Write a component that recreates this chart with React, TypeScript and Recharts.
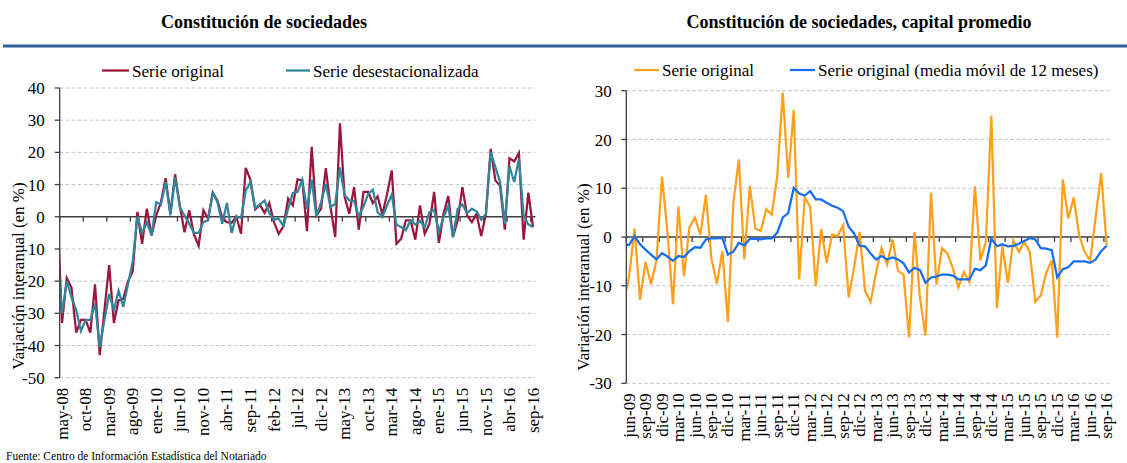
import React from "react";
import {
  LineChart,
  Line,
  XAxis,
  YAxis,
  CartesianGrid,
  ReferenceLine,
} from "recharts";

const FONT = "'Liberation Serif', 'Times New Roman', serif";
const AXIS = "#404040";

// Constitución de sociedades, may-08 .. sep-16 (monthly)
const leftTickLabels = [
  "may-08", "oct-08", "mar-09", "ago-09", "ene-10", "jun-10", "nov-10",
  "abr-11", "sep-11", "feb-12", "jul-12", "dic-12", "may-13", "oct-13",
  "mar-14", "ago-14", "ene-15", "jun-15", "nov-15", "abr-16", "sep-16",
];
const leftOriginal = [
  -33, -19, -22, -36, -32, -32, -36, -21, -43, -29,
  -15, -33, -26, -25.5, -20, -17, 1.5, -8.4, 2.5, -5.8,
  0.4, 4.5, 12, 1, 13.2, 3.5, -4.8, 2, -5.5, -9,
  2, -0.6, 7.5, 5, -0.3, -1.7, -1.9, 0.1, -5.3, 15.2,
  11.5, 2.3, 3.7, 1.2, 4.3, -1.7, -5.3, -3, 5.6, 3.5,
  11.6, 11.3, -4.5, 21.7, 0.4, 2.5, 15.1, 3, -6.3, 29,
  6.1, 0.9, 9.2, -4, 7.7, 7.7, 4.2, 6.3, 0.7, 7,
  14.4, -8.4, -6.8, -1.1, -1.1, -7.1, 3.5, -5.3, -2.2, 7.7,
  -8.1, 0.9, 6.4, -6.3, -1.1, 9.2, 0.4, -1.7, 0.9, -6,
  0.9, 21.1, 11.3, 9.6, -4, 18.2, 17.2, 19.8, -7.1, 7.5, -3.2,
];
const leftDesest = [
  -30, -20, -25, -29, -35.5, -32, -32, -27, -40.5, -32,
  -24, -29, -23, -28, -21, -14, 0, -5, -1.7, -5.8,
  4.5, 3.8, 10.8, 0.4, 12.3, 3, 0.4, -2.2, -5, -5,
  -1.7, -1.1, 7.5, 4.5, -2.2, 4.3, -5, 0.1, -0.4, 8.1,
  10.7, 2.7, 3.8, 5.1, 1.1, -0.9, -0.6, -2.9, 2.5, 7.4,
  7.7, 11.5, 2.5, 11.5, 0.1, 4.5, 10.2, 3, 4, 15.3,
  6.7, 5.1, 4.9, 0.1, 3.2, 7.1, 8.4, 1.4, -0.1, 3.5,
  6.9, -2.5, -3.2, -4.2, -1.1, -2.4, -1.3, -3.2, 1.4, 2.2,
  -4.8, -0.1, 3.3, -6.3, 2.5, 3.8, 1.1, 2.5, 1.7, -0.9,
  0.9, 20.1, 15.4, 10.8, -2.2, 15.6, 10.8, 18, 0.4, -2.4, -3.2,
];
// abr-08: only the clipped piece of line at the left edge shows
const leftOriginalPrev = 1.8;
const leftDesestPrev = -11.6;

// Constitución de sociedades, capital promedio, jun-09 .. sep-16
const rightTickLabels = [
  "jun-09", "sep-09", "dic-09", "mar-10", "jun-10", "sep-10", "dic-10",
  "mar-11", "jun-11", "sep-11", "dic-11", "mar-12", "jun-12", "sep-12",
  "dic-12", "mar-13", "jun-13", "sep-13", "dic-13", "mar-14", "jun-14",
  "sep-14", "dic-14", "mar-15", "jun-15", "sep-15", "dic-15", "mar-16",
  "jun-16", "sep-16",
];
const rightOriginal = [
  -8.2, 1.7, -12.9, -5.1, -9.7, -4.8, 12.4, 1, -13.8, 6.3,
  -8, 2, 4, 0.5, 8.7, -4.4, -9.6, -2.9, -17.4, 7,
  15.9, -4.6, 10.5, 1.7, 1.3, 5.7, 4.6, 12.6, 29.6, 12.1,
  26, -8.7, 8.1, 6.2, -10.1, 1.6, -5.3, 0.5, 0.2, 2.4,
  -12.4, -6.2, 1, -11.1, -13.3, -7.2, -2.3, -5.7, -0.5, -7,
  -7.7, -20.6, 1, -12.6, -20.2, 9.1, -9.8, -2.3, -3.4, -6.5,
  -10.3, -7.2, -9.2, 10.4, -4.8, -1, 24.9, -14.6, -1.8, -9.4,
  -0.7, -3.1, -1, -3.1, -13.3, -12, -7.3, -4.8, -20.6, 11.8,
  3.8, 8.1, 0.3, -3.1, -4.8, 4.1, 13.1, -1.7,
];
const rightMovil = [
  -1.6, 0.2, -1.5, -2.6, -3.6, -4.6, -3.3, -4, -4.9, -3.9,
  -4.1, -2.9, -2.1, -2.2, -0.5, -0.3, -0.3, -0.2, -3.6, -3,
  -1.2, -1.7, -0.4, -0.4, -0.5, -0.3, -0.3, 0.9, 4, 4.9,
  10.1, 8.9, 8.5, 9.4, 7.7, 7.7, 7, 6.4, 6, 5.3,
  2.1, 0.7, -1.8, -1.9, -3.4, -4.6, -3.9, -4.6, -4.2, -4.6,
  -5.4, -7.3, -6.3, -6.8, -9.4, -8.3, -8.1, -7.7, -7.7, -7.9,
  -8.7, -8.7, -8.7, -6.5, -6.8, -5.8, -0.3, -1.9, -1.5, -1.9,
  -1.8, -1.4, -0.8, -0.2, -0.5, -2.3, -2.4, -2.7, -8.3, -6.6,
  -6.2, -5, -5, -5, -5.3, -4.6, -2.9, -1.8,
];
// may-09
const rightOriginalPrev = -13.6;
const rightMovilPrev = -1.6;

const leftYTicks = [-50, -40, -30, -20, -10, 0, 10, 20, 30, 40];
const rightYTicks = [-30, -20, -10, 0, 10, 20, 30];

const leftSeries = [
  { key: "orig", name: "Serie original", color: "#9b163c" },
  { key: "desest", name: "Serie desestacionalizada", color: "#31869c" },
];
const rightSeries = [
  { key: "orig", name: "Serie original", color: "#ffa01c" },
  { key: "movil", name: "Serie original (media móvil de 12 meses)", color: "#156ef3" },
];

const leftData = [
  { i: -1, orig: leftOriginalPrev, desest: leftDesestPrev },
  ...leftOriginal.map((v, i) => ({ i, orig: v, desest: leftDesest[i] })),
];
const rightData = [
  { i: -1, orig: rightOriginalPrev, movil: rightMovilPrev },
  ...rightOriginal.map((v, i) => ({ i, orig: v, movil: rightMovil[i] })),
];

const VerticalTick = ({ x, y, payload, text }: any) => (
  <text
    x={x}
    y={y}
    dy="0.33em"
    transform={`rotate(-90, ${x}, ${y})`}
    textAnchor="end"
    fontSize={17}
    fontFamily={FONT}
    fill="#000"
  >
    {text.get(payload.value)}
  </text>
);

function Panel({
  data,
  series,
  tickLabels,
  step,
  count,
  yDomain,
  yTicks,
  width,
  margin,
  yWidth,
  xHeight,
  yTickMargin,
  zeroTick,
}: any) {
  const ticks = tickLabels.map((_: string, k: number) => k * step);
  const text = new Map(ticks.map((t: number, k: number) => [t, tickLabels[k]]));

  return (
    <LineChart width={width} height={463} data={data} margin={margin}>
      <CartesianGrid vertical={false} stroke="#c4c4c4" strokeDasharray="3.5 2.5" />
      <XAxis
        type="number"
        dataKey="i"
        domain={[-0.5, count - 0.5]}
        allowDataOverflow
        ticks={ticks}
        interval={0}
        height={xHeight}
        axisLine={false}
        tickLine={false}
        tickSize={0}
        tickMargin={10}
        tick={(p: any) => <VerticalTick {...p} text={text} />}
      />
      <YAxis
        type="number"
        domain={yDomain}
        ticks={yTicks}
        interval={0}
        width={yWidth}
        axisLine={{ stroke: AXIS, strokeWidth: 1.3 }}
        tickLine={{ stroke: AXIS, strokeWidth: 1.3 }}
        tickSize={5}
        tickMargin={yTickMargin}
        tick={{ fill: "#000", fontSize: 17, fontFamily: FONT }}
      />
      <ReferenceLine y={0} stroke={AXIS} strokeWidth={1.3} />
      {ticks.map((t: number) => (
        <ReferenceLine
          key={t}
          segment={[
            { x: t - 0.5, y: 0 },
            { x: t - 0.5, y: -zeroTick },
          ]}
          stroke={AXIS}
          strokeWidth={1.3}
        />
      ))}
      {series.map((s: any) => (
        <Line
          key={s.key}
          type="linear"
          dataKey={s.key}
          name={s.name}
          stroke={s.color}
          strokeWidth={2.25}
          dot={false}
          activeDot={false}
          isAnimationActive={false}
        />
      ))}
    </LineChart>
  );
}

const LegendItem = ({ x, textX, y, color, label }: any) => (
  <g>
    <line x1={x} x2={textX - 3} y1={y} y2={y} stroke={color} strokeWidth={2.25} />
    <text x={textX} y={y + 6} fontSize={17} fontFamily={FONT} fill="#000">
      {label}
    </text>
  </g>
);

export default function App() {
  return (
    <div
      style={{
        position: "absolute",
        left: 0,
        top: 0,
        width: 1127,
        height: 463,
        background: "#fff",
        overflow: "hidden",
      }}
    >
      <div style={{ position: "absolute", left: 0, top: 0 }}>
        <Panel
          data={leftData}
          series={leftSeries}
          tickLabels={leftTickLabels}
          step={5}
          count={leftOriginal.length}
          yDomain={[-50, 40]}
          yTicks={leftYTicks}
          width={560}
          margin={{ top: 88, right: 24.6, bottom: 0, left: 0 }}
          yWidth={59.7}
          xHeight={85.3}
          yTickMargin={10}
          zeroTick={1.55}
        />
      </div>
      <div style={{ position: "absolute", left: 560, top: 0 }}>
        <Panel
          data={rightData}
          series={rightSeries}
          tickLabels={rightTickLabels}
          step={3}
          count={rightOriginal.length}
          yDomain={[-30, 30]}
          yTicks={rightYTicks}
          width={567}
          margin={{ top: 90.7, right: 17.6, bottom: 0, left: 0 }}
          yWidth={66.3}
          xHeight={79.7}
          yTickMargin={9.5}
          zeroTick={1.05}
        />
      </div>
      <svg
        width={1127}
        height={463}
        style={{ position: "absolute", left: 0, top: 0, pointerEvents: "none" }}
      >
        <text x={264} y={28} textAnchor="middle" fontSize={18} fontWeight="bold" fontFamily={FONT} fill="#000">
          Constitución de sociedades
        </text>
        <text x={859} y={28} textAnchor="middle" fontSize={18} fontWeight="bold" fontFamily={FONT} fill="#000">
          Constitución de sociedades, capital promedio
        </text>
        <line x1={3} x2={1127} y1={46} y2={46} stroke="#2f5f97" strokeWidth={3} />

        <LegendItem x={102} textX={132} y={70.5} color={leftSeries[0].color} label={leftSeries[0].name} />
        <LegendItem x={286} textX={313} y={70.5} color={leftSeries[1].color} label={leftSeries[1].name} />
        <LegendItem x={634} textX={662} y={70} color={rightSeries[0].color} label={rightSeries[0].name} />
        <LegendItem x={790} textX={818} y={70} color={rightSeries[1].color} label={rightSeries[1].name} />

        <text x={24} y={276} textAnchor="middle" transform="rotate(-90, 24, 276)" fontSize={17} fontFamily={FONT} fill="#000">
          Variación interanual (en %)
        </text>
        <text x={589} y={277} textAnchor="middle" transform="rotate(-90, 589, 277)" fontSize={17} fontFamily={FONT} fill="#000">
          Variación interanual (en %)
        </text>

        <text x={6} y={459.5} fontSize={11.5} fontFamily={FONT} fill="#000">
          Fuente: Centro de Información Estadística del Notariado
        </text>
      </svg>
    </div>
  );
}
